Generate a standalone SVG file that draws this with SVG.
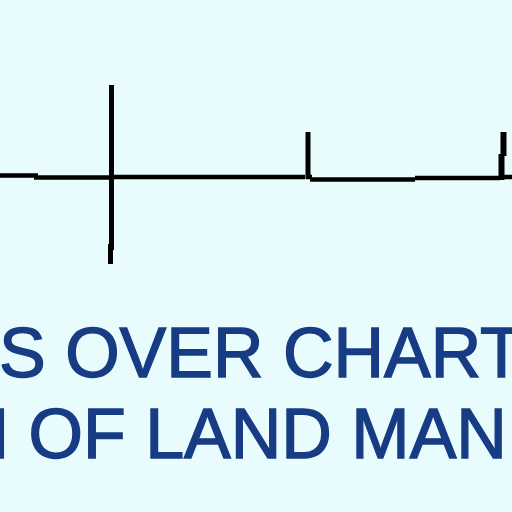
<svg xmlns="http://www.w3.org/2000/svg" width="512" height="512" viewBox="0 0 512 512">
<style>
.ln{stroke:#000;fill:none;stroke-linecap:butt}
.t{font-family:"Liberation Sans",Arial,sans-serif;font-size:70px;fill:#173c84;stroke:#173c84;stroke-width:1.4px}
</style>
<rect width="512" height="512" fill="#e8fbfd"/>
<g id="connectors">
<path class="ln" stroke-width="4.5" d="M0 175.5H38M34 177.5H112M112 177H305"/>
<path class="ln" stroke-width="4.5" d="M306 177H312M310 179.5H335M335 179.5H415M415 178H500M500 177H512"/>
</g>
<g id="node-cross">
<path class="ln" stroke-width="5" d="M111.5 85V250"/>
<path class="ln" stroke-width="5" d="M110.5 244V264"/>
</g>
<g id="node-tick1">
<path class="ln" stroke-width="5" d="M308 132V179"/>
</g>
<g id="node-tick2">
<path class="ln" stroke-width="6" d="M503.5 132V156"/>
<path class="ln" stroke-width="6" d="M501.5 154V180"/>
</g>
<g id="labels">
<text class="t" x="-1" y="377">S OVER CHART</text>
<text class="t" x="-41.5" y="458">N OF LAND MAN</text>
</g>
</svg>
